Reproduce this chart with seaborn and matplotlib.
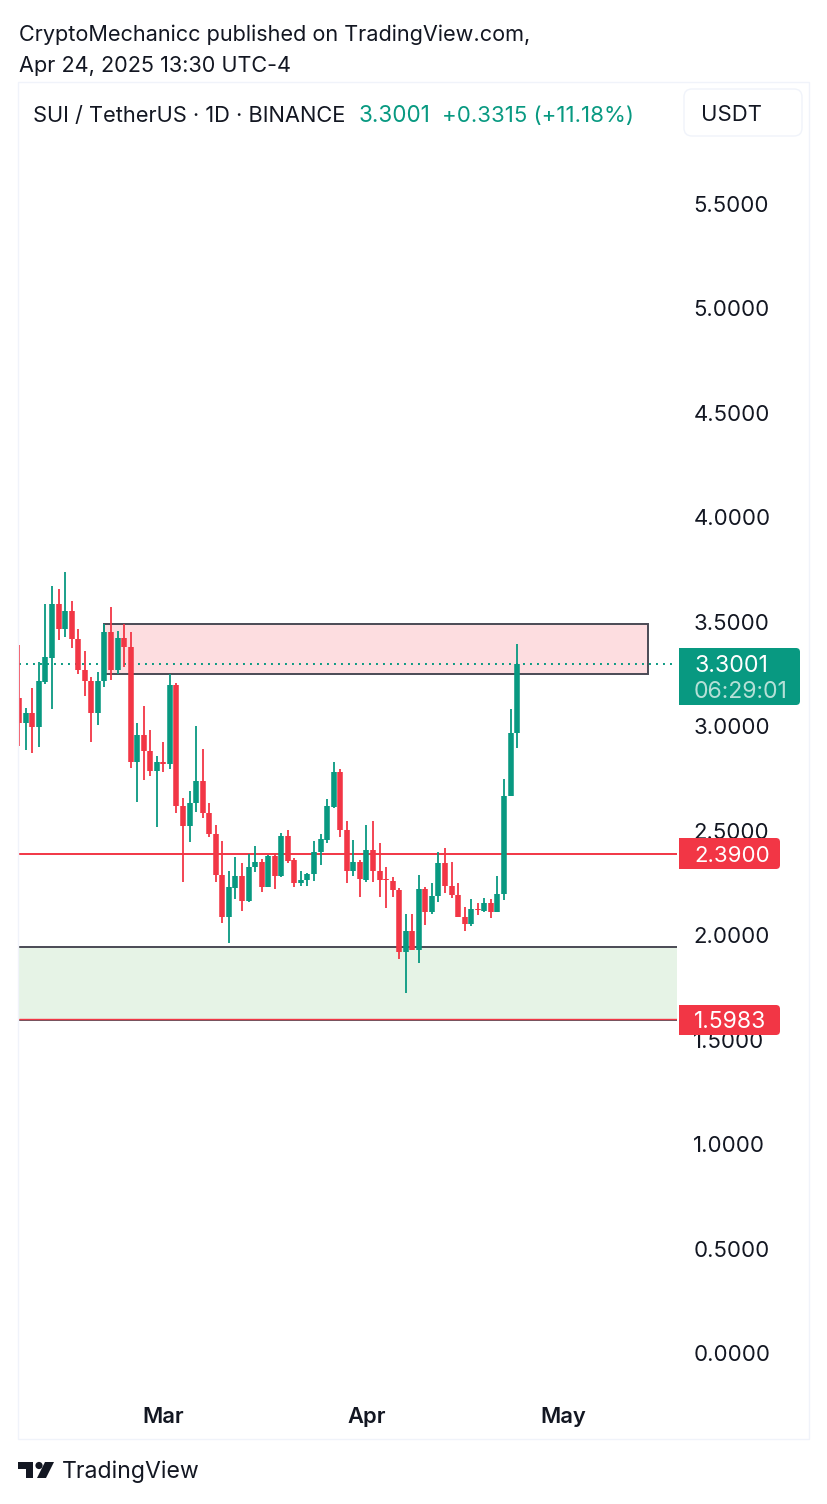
import matplotlib
matplotlib.use("Agg")
import matplotlib.pyplot as plt
import matplotlib.dates as mdates
from matplotlib.patches import Rectangle, FancyBboxPatch, Circle, Polygon
from matplotlib.transforms import Affine2D
import seaborn as sns
import numpy as np
import pandas as pd

# daily candles
dates = pd.date_range("2025-02-07", "2025-04-24")
opens = [3.137, 3.014, 3.064, 2.995, 3.214, 3.327, 3.584, 3.466, 3.553, 3.418, 3.268,
         3.218, 3.064, 3.218, 3.451, 3.268, 3.421, 3.380, 2.829, 2.958, 2.883, 2.788,
         2.831, 2.819, 3.196, 2.618, 2.524, 2.631, 2.738, 2.583, 2.483, 2.290, 2.087,
         2.227, 2.285, 2.162, 2.326, 2.352, 2.231, 2.379, 2.283, 2.475, 2.358, 2.250,
         2.262, 2.293, 2.398, 2.454, 2.615, 2.781, 2.503, 2.309, 2.352, 2.264, 2.408,
         2.307, 2.267, 2.258, 2.216, 1.921, 2.020, 1.929, 2.223, 2.109, 2.188, 2.347,
         2.234, 2.192, 2.087, 2.054, 2.127, 2.117, 2.153, 2.113, 2.196, 2.666, 2.966]
highs = [3.389, 3.089, 3.183, 3.309, 3.585, 3.672, 3.657, 3.739, 3.601, 3.466, 3.360,
         3.238, 3.260, 3.490, 3.571, 3.456, 3.490, 3.451, 3.016, 3.097, 2.982, 2.858,
         2.925, 3.250, 3.207, 2.655, 2.690, 3.001, 2.893, 2.631, 2.526, 2.449, 2.306,
         2.376, 2.344, 2.387, 2.428, 2.365, 2.382, 2.389, 2.487, 2.502, 2.369, 2.309,
         2.299, 2.452, 2.484, 2.652, 2.831, 2.797, 2.547, 2.456, 2.360, 2.528, 2.548,
         2.440, 2.325, 2.277, 2.226, 2.100, 2.101, 2.288, 2.232, 2.248, 2.400, 2.416,
         2.352, 2.248, 2.133, 2.172, 2.156, 2.180, 2.172, 2.285, 2.749, 3.081, 3.394]
lows = [2.907, 2.885, 2.871, 2.902, 3.204, 3.083, 3.411, 3.427, 3.376, 3.249, 3.147,
        2.923, 3.008, 3.190, 3.223, 3.249, 3.285, 2.802, 2.636, 2.744, 2.762, 2.519,
        2.783, 2.794, 2.583, 2.256, 2.444, 2.588, 2.562, 2.468, 2.253, 2.060, 1.964,
        2.173, 2.116, 2.159, 2.301, 2.207, 2.231, 2.221, 2.277, 2.344, 2.232, 2.235,
        2.235, 2.261, 2.334, 2.441, 2.609, 2.470, 2.250, 2.283, 2.184, 2.255, 2.255,
        2.184, 2.132, 2.184, 1.884, 1.722, 1.929, 1.865, 2.050, 2.100, 2.160, 2.204,
        2.177, 2.087, 2.022, 2.046, 2.097, 2.111, 2.084, 2.109, 2.168, 2.666, 2.898]
closes = [3.014, 3.064, 2.995, 3.217, 3.332, 3.584, 3.466, 3.553, 3.418, 3.268, 3.217,
          3.064, 3.218, 3.451, 3.268, 3.421, 3.380, 2.829, 2.958, 2.883, 2.788, 2.831,
          2.819, 3.196, 2.618, 2.524, 2.634, 2.738, 2.583, 2.483, 2.290, 2.087, 2.229,
          2.285, 2.163, 2.326, 2.352, 2.231, 2.379, 2.283, 2.475, 2.357, 2.250, 2.264,
          2.294, 2.398, 2.459, 2.618, 2.781, 2.503, 2.309, 2.352, 2.267, 2.408, 2.307,
          2.264, 2.263, 2.216, 1.921, 2.020, 1.929, 2.223, 2.109, 2.188, 2.347, 2.234,
          2.192, 2.087, 2.055, 2.124, 2.121, 2.156, 2.113, 2.196, 2.666, 2.966, 3.3001]

price_ticks = [0.0, 0.5, 1.0, 1.5, 2.0, 2.5, 3.0, 3.5, 4.0, 4.5, 5.0, 5.5]
month_ticks = ["2025-03-01", "2025-04-01", "2025-05-01"]
last_price = 3.3001
support_line = 2.39
stop_line = 1.5983
sell_zone = [3.25, 3.49]
sell_zone_dates = ["2025-02-20", "2025-05-14"]
buy_zone_top = 1.9435

GREEN = "#089981"
RED = "#f23645"
INK = "#131722"
ZONE_EDGE = "#4a4a55"

sns.set_theme(style="white")
plt.rcParams["font.family"] = ["Inter", "DejaVu Sans"]

W, H = 828, 1504
fig = plt.figure(figsize=(W / 100, H / 100), dpi=100)
# axes placed by pixel, top left origin
px = Affine2D().scale(1, -1).translate(0, H)
ax = fig.add_axes([19 / W, 1 - 1395 / H, (677 - 19) / W, (1395 - 82) / H])

# long tables for the candles, one line per candle
side = np.where(np.array(closes) >= np.array(opens), "up", "down")
wicks = pd.concat([
    pd.DataFrame({"date": dates, "price": highs, "side": side}),
    pd.DataFrame({"date": dates, "price": lows, "side": side}),
])
bodies = pd.concat([
    pd.DataFrame({"date": dates, "price": opens, "side": side}),
    pd.DataFrame({"date": dates, "price": closes, "side": side}),
])
colors = {"up": GREEN, "down": RED}

sns.lineplot(data=wicks, x="date", y="price", hue="side", units="date", estimator=None,
             palette=colors, legend=False, linewidth=1.3, solid_capstyle="butt", zorder=3, ax=ax)
sns.lineplot(data=bodies, x="date", y="price", hue="side", units="date", estimator=None,
             palette=colors, legend=False, linewidth=4.0, solid_capstyle="butt", zorder=3.5, ax=ax)

# zones and levels
x0 = mdates.date2num(pd.Timestamp(sell_zone_dates[0]))
x1 = mdates.date2num(pd.Timestamp(sell_zone_dates[1]))
ax.add_patch(Rectangle((x0, sell_zone[0]), x1 - x0, sell_zone[1] - sell_zone[0],
                       facecolor="#fddde0", edgecolor=ZONE_EDGE, linewidth=1.4, zorder=1))
ax.axhspan(stop_line, buy_zone_top, color="#e6f3e6", linewidth=0, zorder=1)
ax.axhline(buy_zone_top, color=ZONE_EDGE, linewidth=1.4, zorder=2)
ax.axhline(stop_line - 0.006, color=ZONE_EDGE, linewidth=1.3, zorder=2)
ax.axhline(stop_line, color=RED, linewidth=1.0, zorder=2.1)
ax.axhline(support_line, color=RED, linewidth=1.4, zorder=2)
ax.axhline(last_price, color=GREEN, linewidth=1.4, linestyle=(0, (1, 2.6)), zorder=2)

# axes
ax.set_xlim(dates[0] - pd.Timedelta(hours=1), dates[0] + pd.Timedelta(days=100.41))
ax.set_ylim((1353 - 1395) / 208.9, (1353 - 82) / 208.9)
ax.yaxis.tick_right()
ax.set_yticks(price_ticks)
ax.set_yticklabels([f"{p:.4f}" for p in price_ticks], fontsize=16.0, color=INK)
ax.set_xticks(pd.to_datetime(month_ticks))
ax.xaxis.set_major_formatter(mdates.DateFormatter("%b"))
ax.tick_params(axis="y", length=0, pad=11.8)
ax.tick_params(axis="x", length=0, pad=8.3, labelsize=15.8, labelcolor=INK)
for lab in ax.get_xticklabels():
    lab.set_fontweight("semibold")
ax.set_xlabel("")
ax.set_ylabel("")
sns.despine(ax=ax, left=True, bottom=True, right=True, top=True)

# chart frame and symbol button
fig.add_artist(Rectangle((18, 82), 791, 1357, transform=px, facecolor="none",
                         edgecolor="#f0f3fa", linewidth=1, zorder=0.5))
fig.add_artist(FancyBboxPatch((690, 95), 106, 35, boxstyle="round,pad=6,rounding_size=8", transform=px,
                              facecolor="white", edgecolor="#f0f3fa", linewidth=1, zorder=1))


def put(x, y, s, color=INK, size=16.0, **kw):
    fig.text(x, y, s, transform=px, color=color, fontsize=size, va="center", zorder=7, **kw)


def price_tag(top, bottom, right, color):
    # flat on the left, rounded on the right
    fig.add_artist(FancyBboxPatch((683, top + 4), right - 687, bottom - top - 8,
                                  boxstyle="round,pad=4,rounding_size=4", transform=px,
                                  facecolor=color, edgecolor="none", zorder=5))
    fig.add_artist(Rectangle((679, top), 10, bottom - top, transform=px,
                             facecolor=color, edgecolor="none", zorder=5))


put(19, 35, "CryptoMechanicc published on TradingView.com,", size=15.6)
put(19, 66, "Apr 24, 2025 13:30 UTC-4", size=15.6)
put(33, 116, "SUI / TetherUS · 1D · BINANCE", size=15.75)
put(359, 116, "3.3001", color=GREEN, size=16.2)
put(442, 116, "+0.3315 (+11.18%)", color=GREEN, size=16.0)
put(701, 115, "USDT", size=15.9)

price_tag(648, 705, 800, GREEN)
put(694, 666, "3.3001", color="white", size=16.7)
put(694, 692, "06:29:01", color="#b5e0d7", size=16.6)
price_tag(838, 869, 780, RED)
put(694, 856, "2.3900", color="white", size=16.0)
price_tag(1005, 1035, 780, RED)
put(694, 1022, "1.5983", color="white", size=16.5)

# logo
logo = "#131722"
fig.add_artist(Polygon([(18, 1462), (33, 1462), (33, 1478), (26, 1478), (26, 1469), (18, 1469)],
                       closed=True, transform=px, facecolor=logo, edgecolor="none", zorder=5))
fig.add_artist(Circle((39, 1465.5), 3.6, transform=px, facecolor=logo, edgecolor="none", zorder=5))
fig.add_artist(Polygon([(45, 1462), (54, 1462), (46, 1478), (37, 1478)],
                       closed=True, transform=px, facecolor=logo, edgecolor="none", zorder=5))
put(62, 1472, "TradingView", size=16.6)

fig.savefig("out.png", dpi=100, facecolor="white")
